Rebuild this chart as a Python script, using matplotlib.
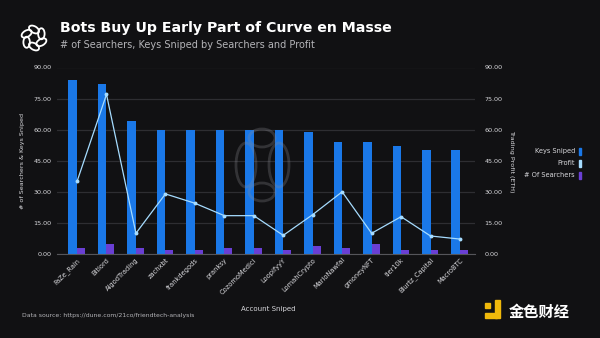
import matplotlib
matplotlib.use("Agg")
import matplotlib.pyplot as plt
from matplotlib.patches import Ellipse, Rectangle
import numpy as np

accounts = ["FaZe_Rain", "Bitlord", "AlgodTrading", "zachxbt", "frankdegods", "pranksy",
            "CozomoMedici", "LoopifyyY", "LomahCrypto", "MarioNawfal", "gmoneyNFT",
            "tier10k", "Blurtz_Capital", "MacroBTC"]
keys_sniped = [84, 82, 64, 60, 60, 60, 60, 60, 59, 54, 54, 52, 50, 50]
searchers = [3, 5, 3, 2, 2, 3, 3, 2, 4, 3, 5, 2, 2, 2]
profit = [35, 77, 10, 29, 24.5, 18.5, 18.5, 9, 19, 30, 10, 18, 8.7, 7.2]
yticks = [0, 15, 30, 45, 60, 75, 90]

BG = "#111113"
BLUE = "#1a78e8"
PURPLE = "#6a3fd4"
LINE = "#a6dcff"
GRID = "#2e2e32"
TXT = "#d8d8dc"

plt.rcParams['font.family'] = ['DejaVu Sans']
fig = plt.figure(figsize=(6, 3.38), dpi=100, facecolor=BG)

W, H = 600, 338
ax = fig.add_axes([57 / W, 1 - 254 / H, (475 - 57) / W, (254 - 67.5) / H])
ax.set_facecolor(BG)
x = np.arange(len(accounts))
ax.bar(x - 0.145, keys_sniped, width=0.29, color=BLUE, zorder=2)
ax.bar(x + 0.135, searchers, width=0.27, color=PURPLE, zorder=2)
ax.set_xlim(-0.68, 13.51)
ax.set_ylim(0, 90)
ax.set_yticks(yticks)
ax.set_yticklabels([f"{v:.2f}" for v in yticks], fontsize=4.6, color=TXT)
ax.grid(axis='y', color=GRID, lw=0.9, zorder=0)
for s in ["top", "right", "left"]:
    ax.spines[s].set_visible(False)
ax.spines["bottom"].set_color("#55555a")
ax.spines["bottom"].set_linewidth(0.8)
ax.tick_params(axis='y', length=0, pad=4)
ax.tick_params(axis='x', length=0, pad=2)
ax.set_xticks(x)
ax.set_xticklabels(accounts, rotation=45, ha='right', rotation_mode='anchor',
                   fontsize=4.8, color=TXT)
ax.set_ylabel("# of Searchers & Keys Sniped", fontsize=4.6, color=TXT, labelpad=6)
ax.set_xlabel("Account Sniped", fontsize=5, color=TXT, labelpad=3)
ax.xaxis.set_label_coords((268 - 57) / (475 - 57), -(306 - 254) / (254 - 67.5))

ax2 = ax.twinx()
ax2.set_ylim(0, 90)
ax2.plot(x, profit, color=LINE, lw=0.9, marker='o', ms=1.8, zorder=3)
ax2.set_yticks(yticks)
ax2.set_yticklabels([f"{v:.2f}" for v in yticks], fontsize=4.6, color=TXT)
ax2.tick_params(axis='y', length=0, pad=7)
for s in ["top", "right", "left", "bottom"]:
    ax2.spines[s].set_visible(False)
ax2.set_ylabel("Trading Profit (ETH)", fontsize=4.6, color=TXT, rotation=-90, labelpad=8)

# overlay for decorations
wm = fig.add_axes([0, 0, 1, 1], facecolor='none')
wm.set_xlim(0, W); wm.set_ylim(H, 0); wm.axis('off')

# faint center watermark knot
wmc = (0.55, 0.55, 0.58, 0.28)
for (cx, cy, w, h) in [(262, 138, 26, 18), (262, 192, 26, 18),
                       (246, 165, 20, 44), (279, 165, 20, 44)]:
    wm.add_patch(Ellipse((cx, cy), w, h, fill=False, ec=wmc, lw=2.0, zorder=1))

# top-left logo
lc = (34, 38)
for k in range(6):
    ang = np.pi / 2 + k * np.pi / 3
    px = lc[0] + 8.5 * np.cos(ang)
    py = lc[1] - 8.5 * np.sin(ang)
    wm.add_patch(Ellipse((px, py), 11, 6.5, angle=-np.degrees(ang) + 90 + 30, fill=False,
                         ec="white", lw=1.3))

fig.text(60 / W, 1 - 28 / H, "Bots Buy Up Early Part of Curve en Masse", fontsize=10.2,
         fontweight='bold', color="white", va='center', ha='left')
fig.text(60 / W, 1 - 45 / H, "# of Searchers, Keys Sniped by Searchers and Profit", fontsize=7,
         color="#b4b4b8", va='center', ha='left')

# legend
legend_items = [("Keys Sniped", BLUE), ("Profit", LINE), ("# Of Searchers", PURPLE)]
for i, (lab, col) in enumerate(legend_items):
    yy = 151 + i * 12
    fig.text(575 / W, 1 - yy / H, lab, fontsize=4.8, color=TXT, ha='right', va='center')
    wm.add_patch(Rectangle((579, yy - 3.5), 1.6, 7, color=col))

fig.text(22 / W, 1 - 316 / H, "Data source: https://dune.com/21co/friendtech-analysis",
         fontsize=4.4, color="#b4b4b8", ha='left', va='center')

# bottom-right watermark
wm.add_patch(Rectangle((485, 303), 5, 5, color="#f0b90b"))
wm.add_patch(Rectangle((495, 300), 5, 18, color="#f0b90b"))
wm.add_patch(Rectangle((485, 313), 12, 5, color="#f0b90b"))
fig.text(509 / W, 1 - 312 / H, "金色财经", fontsize=11, color="white", ha='left', va='center',
         family=['Noto Sans CJK SC', 'DejaVu Sans'], fontweight='bold')

fig.savefig("out.png", dpi=100, facecolor=BG)
